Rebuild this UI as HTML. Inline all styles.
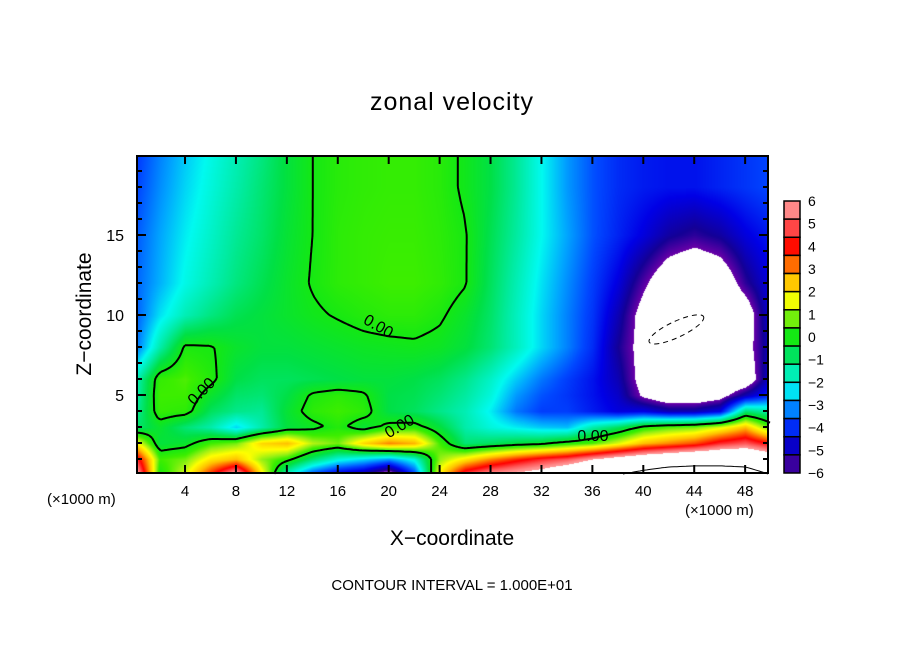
<!DOCTYPE html>
<html><head><meta charset="utf-8"><style>
body{margin:0;background:#fff;width:904px;height:654px;overflow:hidden;position:relative;font-family:"Liberation Sans",sans-serif}
.t{position:absolute;white-space:nowrap;color:#000}
canvas{position:absolute}
</style></head><body>
<div class="t" style="left:0;width:904px;text-align:center;top:88px;font-size:25px;letter-spacing:1px">zonal velocity</div>
<canvas id="cv" width="631" height="317" style="left:137px;top:156px"></canvas>
<svg id="sv" width="904" height="654" style="position:absolute;left:0;top:0"></svg>
<div class="t" style="left:47px;top:491px;font-size:15px">(×1000 m)</div>
<div class="t" style="left:685px;top:502px;font-size:15px">(×1000 m)</div>
<div class="t" style="left:0;width:904px;text-align:center;top:527px;font-size:21px">X−coordinate</div>
<div class="t" style="left:-15px;top:302px;width:200px;text-align:center;font-size:21px;transform:rotate(-90deg)">Z−coordinate</div>
<div class="t" style="left:0;width:904px;text-align:center;top:577px;font-size:15px">CONTOUR INTERVAL = 1.000E+01</div>
<script>
const xs=[0,2,4,6,8,10,12,14,16,18,20,22,24,26,28,30,32,34,36,38,40,42,44,46,48,50];
const zs=[0,1,2,3,4,5,6,8,10,12,15,18,20];
const r0=[7,0,1.5,4,6.5,2,-2,-4,-5,-5.5,-7,-4,2,5,6,6.5,7,8,9,10,11,12,12,12,11.5,10];
const r1=[5,0.5,0.8,2,2.5,1,0.3,-1,-2,-2.5,-3,-2,1,2,3,3.8,4.5,5,6,6.8,7.5,8,8.5,8.5,8.5,7.5];
const r2=[2,-0.5,-0.3,0.5,0.8,2.2,2.5,1.2,0.8,2.2,3,2.6,0.5,-1,-0.8,-0.5,-0.3,0.2,0.6,1.5,2.5,3,3.5,4.5,5,4];
const r3=[-1,-0.3,-1,-1.5,-2.5,-1.5,-0.5,-0.2,0.2,-0.4,0.2,0.3,-0.5,-1.5,-2,-2.3,-2.6,-2.7,-1.5,-0.8,0.2,0.6,0.8,1.5,2.5,0.5];
const r4=[-1.5,0.4,0.3,-0.8,-1.2,-1.3,-0.4,0.3,0.5,0.3,-0.6,-0.8,-1.2,-1.6,-2.3,-3.3,-3.8,-3.8,-4.2,-4.6,-4.5,-5,-5,-4.5,-1,-1.5];
const r5=[-1.7,0.5,0.5,-0.3,-0.9,-1,-0.6,0.1,0.3,0.1,-0.6,-0.7,-1,-1.4,-2,-3,-3.6,-3.9,-4.3,-4.8,-6.2,-7,-7,-6.5,-5,-4];
const r6=[-1.8,0.4,0.6,0.2,-0.6,-0.8,-0.8,-0.7,-0.6,-0.5,-0.5,-0.6,-0.8,-1.2,-1.8,-2.6,-3.3,-3.8,-4.3,-5,-6.5,-7.5,-7.5,-7.5,-7,-4.5];
const r8=[-3.5,-1.5,0.1,0.05,-0.3,-0.5,-0.5,-0.4,-0.3,-0.2,-0.15,-0.1,-0.2,-0.5,-1,-1.7,-2.5,-3.2,-4,-5.3,-6.5,-7.5,-7.5,-7.5,-6.5,-4.8];
const r10=[-3.6,-2.4,-1.6,-1.1,-0.7,-0.5,-0.3,-0.1,0.05,0.2,0.3,0.3,0.1,-0.3,-0.9,-1.7,-2.5,-3.2,-3.9,-5,-6.5,-7.5,-7.5,-7.5,-6.8,-4.5];
const r12=[-3.5,-2.8,-2.1,-1.6,-1.1,-0.7,-0.3,0.05,0.3,0.4,0.5,0.5,0.35,0.05,-0.8,-1.6,-2.4,-3.1,-3.8,-4.6,-5.8,-7,-7.5,-7,-5.5,-4.5];
const r15=[-3.6,-2.9,-2.3,-1.8,-1.3,-0.9,-0.4,0,0.3,0.4,0.45,0.45,0.3,0.05,-0.7,-1.4,-2.2,-2.9,-3.6,-4.1,-4.6,-5.2,-5.5,-5.2,-4.6,-4.2];
const r18=[-3.8,-3.1,-2.5,-2,-1.5,-1,-0.5,0,0.25,0.35,0.4,0.4,0.25,-0.1,-0.6,-1.3,-2.2,-3,-3.6,-4,-4.2,-4.3,-4.3,-4.1,-3.9,-3.7];
const r20=[-3.9,-3.2,-2.6,-2.1,-1.6,-1.1,-0.5,0,0.25,0.35,0.4,0.4,0.25,-0.1,-0.6,-1.3,-2.2,-3,-3.6,-4,-4.2,-4.3,-4.3,-4.1,-3.9,-3.7];
const rows=[r0,r1,r2,r3,r4,r5,r6,r8,r10,r12,r15,r18,r20];
const xTicks=[4,8,12,16,20,24,28,32,36,40,44,48];
const zTicks=[5,10,15];
const cbLabels=[6,5,4,3,2,1,0,-1,-2,-3,-4,-5,-6];

const X0=134.1,XS=12.73,Z0=475,ZS=16;
const px=x=>X0+x*XS, pz=z=>Z0-z*ZS;
function idx(arr,v){let i=0;while(i<arr.length-2&&v>arr[i+1])i++;let t=(v-arr[i])/(arr[i+1]-arr[i]);return [i,Math.max(0,Math.min(1,t))];}
function field(x,z){const [i,tx]=idx(xs,x),[j,tz]=idx(zs,z);
 const a=rows[j][i],b=rows[j][i+1],c=rows[j+1][i],d=rows[j+1][i+1];
 return (a*(1-tx)+b*tx)*(1-tz)+(c*(1-tx)+d*tx)*tz;}
const stops=[[-6,[106,0,168]],[-5.3,[20,0,150]],[-4.5,[0,0,230]],[-3.7,[0,70,255]],[-2.9,[0,165,255]],[-2.2,[0,250,240]],[-1.4,[0,235,160]],[-0.6,[0,224,70]],[0,[20,232,20]],[0.5,[60,238,0]],[1,[150,240,20]],[1.7,[255,255,0]],[2.5,[255,192,0]],[3.3,[255,96,0]],[4.1,[255,0,0]],[4.9,[255,80,80]],[5.7,[255,144,144]],[6,[255,150,150]]];
function col(v){if(v<-6||v>6)return [255,255,255];
 for(let k=0;k<stops.length-1;k++){if(v<=stops[k+1][0]){const t=(v-stops[k][0])/(stops[k+1][0]-stops[k][0]);return stops[k][1].map((c,n)=>Math.round(c+(stops[k+1][1][n]-c)*t));}}return stops[stops.length-1][1];}
const cv=document.getElementById('cv'),ctx=cv.getContext('2d'),img=ctx.createImageData(631,317);
for(let y=0;y<317;y++)for(let x=0;x<631;x++){const v=field((x+137-X0)/XS,(Z0-(y+156))/ZS);const c=col(v);const o=(y*631+x)*4;img.data[o]=c[0];img.data[o+1]=c[1];img.data[o+2]=c[2];img.data[o+3]=255;}
ctx.putImageData(img,0,0);

const NS='http://www.w3.org/2000/svg',sv=document.getElementById('sv');
function mk(tag,at){const e=document.createElementNS(NS,tag);for(const k in at)e.setAttribute(k,at[k]);sv.appendChild(e);return e;}
function contour(level,w,name){const st=3;let d='';
 for(let y=156;y<473;y+=st)for(let x=137;x<768;x+=st){
  const f=(a,b)=>field((a-X0)/XS,(Z0-b)/ZS)-level;
  const v=[f(x,y),f(x+st,y),f(x+st,y+st),f(x,y+st)];
  const P=[[x,y],[x+st,y],[x+st,y+st],[x,y+st]];const pts=[];
  for(let k=0;k<4;k++){const a=v[k],b=v[(k+1)%4];if((a<0)!=(b<0)){const t=a/(a-b);const p=P[k],q=P[(k+1)%4];pts.push([p[0]+(q[0]-p[0])*t,p[1]+(q[1]-p[1])*t]);}}
  for(let k=0;k+1<pts.length;k+=2)d+=`M${pts[k][0].toFixed(1)} ${pts[k][1].toFixed(1)}L${pts[k+1][0].toFixed(1)} ${pts[k+1][1].toFixed(1)}`;}
 const p=mk('path',{d:d,stroke:'#000','stroke-width':w,fill:'none'});
 
 }
contour(0,2,'zero-contour');
contour(10,1,'ten-contour');
const el=mk('ellipse',{cx:px(42.6),cy:pz(9.1),rx:30,ry:8,transform:`rotate(-25 ${px(42.6)} ${pz(9.1)})`,fill:'none',stroke:'#000','stroke-width':1,'stroke-dasharray':'5 4'});


const labs=[[378,327,30],[202,392,-45],[400,427,-30],[593,437,0]];
labs.forEach(l=>{const t=mk('text',{x:l[0],y:l[1],'font-size':16,'font-family':'Liberation Sans','text-anchor':'middle','dominant-baseline':'middle',transform:`rotate(${l[2]} ${l[0]} ${l[1]})`});t.textContent='0.00';
 
 });
const fr=mk('rect',{x:137,y:156,width:631,height:317,fill:'none',stroke:'#000','stroke-width':2});


let td='';
for(let x=1;x<50;x++){const L=x%4==0?8:0;if(L){td+=`M${px(x)} 473v-${L}M${px(x)} 156v${L}`;}}
for(let z=1;z<20;z++){const L=z%5==0?9:5;td+=`M137 ${pz(z)}h${L}M768 ${pz(z)}h-${L}`;}
const tk=mk('path',{d:td,stroke:'#000','stroke-width':2,fill:'none'});


xTicks.forEach(v=>{const t=mk('text',{x:px(v),y:496,'font-size':15,'font-family':'Liberation Sans','text-anchor':'middle'});t.textContent=v;
 
 });
zTicks.forEach(v=>{const t=mk('text',{x:124,y:pz(v)+6,'font-size':16,'font-family':'Liberation Sans','text-anchor':'end'});t.textContent=v;
 
 });
const cbTop=201,cbBot=473,nb=15,bh=(cbBot-cbTop)/nb;
for(let k=0;k<nb;k++){const v=6-(k+0.5)*12/nb;const c=col(v);
 const r=mk('rect',{x:784,y:cbTop+k*bh,width:16,height:bh,fill:`rgb(${c})`,stroke:'#000','stroke-width':1.5});
 
 }
cbLabels.forEach((v,k)=>{const t=mk('text',{x:808,y:cbTop+k*(cbBot-cbTop)/12+5,'font-size':14,'font-family':'Liberation Sans'});t.textContent=(v<0?'−'+(-v):v);
 
 });
</script>
</body></html>
